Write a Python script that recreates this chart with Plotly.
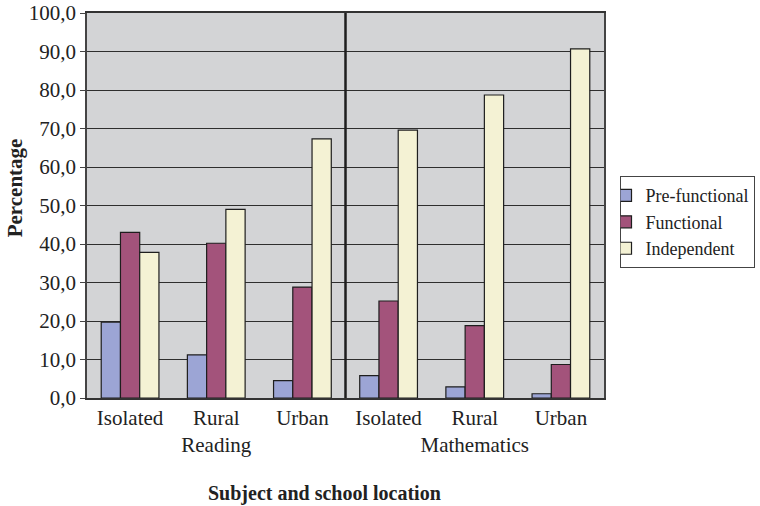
import plotly.graph_objects as go

# Achievement levels by subject and school location (percent of pupils)
subjects = ["Reading", "Mathematics"]
locations = ["Isolated", "Rural", "Urban"]
series_names = ["Pre-functional", "Functional", "Independent"]
pre_functional = [19.7, 11.2, 4.5, 5.8, 2.9, 1.1]
functional = [43.0, 40.2, 28.8, 25.2, 18.8, 8.7]
independent = [37.8, 49.0, 67.3, 69.6, 78.7, 90.7]
y_ticks = [0, 10, 20, 30, 40, 50, 60, 70, 80, 90, 100]

colors = ["#9ca5d5", "#a3537b", "#f4f2d4"]
serif = "Liberation Serif"
ink = "#222222"

# one position per subject/location pair; subject name shown under the middle location
positions = list(range(len(subjects) * len(locations)))
tick_text = []
for s in subjects:
    for j, loc in enumerate(locations):
        tick_text.append(loc + ("<br>" + s if j == len(locations) // 2 else ""))

fig = go.Figure()
for name, vals, col in zip(series_names, [pre_functional, functional, independent], colors):
    fig.add_trace(go.Bar(
        x=positions, y=vals, name=name,
        marker=dict(color=col, line=dict(color="#1e1e1e", width=1.2)),
    ))

fig.update_layout(
    width=760, height=506,
    margin=dict(l=87, r=156, t=13, b=108, autoexpand=False),
    paper_bgcolor="white",
    plot_bgcolor="#d3d4d6",
    barmode="group",
    bargap=0.33,
    bargroupgap=0,
    font=dict(family=serif, size=21, color=ink),
    showlegend=True,
    legend=dict(
        x=1.03, y=0.576, xanchor="left", yanchor="top",
        bgcolor="white", bordercolor="#444444", borderwidth=1,
        font=dict(family=serif, size=18, color=ink),
        itemwidth=30, tracegroupgap=0, indentation=-15,
    ),
    xaxis=dict(
        tickmode="array", tickvals=positions, ticktext=tick_text,
        range=[-0.5, len(positions) - 0.5],
        tickangle=0, automargin=False,
        showgrid=False, zeroline=False,
        showline=True, linecolor="#333333", linewidth=1.5, mirror=True,
        ticks="",
        tickfont=dict(family=serif, size=21, color=ink),
    ),
    yaxis=dict(
        range=[0, 100], automargin=False,
        tickmode="array", tickvals=y_ticks,
        ticktext=[f"{v:.1f}".replace(".", ",") for v in y_ticks],
        showgrid=True, gridcolor="#2e2e2e", gridwidth=1,
        zeroline=False,
        showline=True, linecolor="#444444", linewidth=1.5, mirror=True,
        ticks="outside", ticklen=5, tickcolor="#444444",
        tickfont=dict(family=serif, size=21, color=ink),
    ),
    shapes=[dict(
        type="line", xref="x", yref="paper",
        x0=2.5, x1=2.5, y0=0, y1=1,
        line=dict(color="#1e1e1e", width=2.5),
    )],
    annotations=[
        dict(text="<b>Percentage</b>", xref="paper", yref="paper",
             x=-0.139, y=0.545, xanchor="center", yanchor="middle",
             textangle=-90, showarrow=False,
             font=dict(family=serif, size=21, color=ink)),
        dict(text="<b>Subject and school location</b>", xref="paper", yref="paper",
             x=0.46, y=-0.249, xanchor="center", yanchor="middle",
             showarrow=False,
             font=dict(family=serif, size=20, color=ink)),
    ],
)

fig.write_html("out.html")
